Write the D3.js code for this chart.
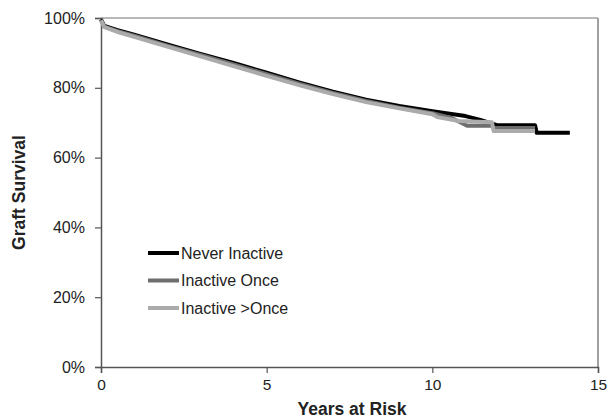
<!DOCTYPE html>
<html>
<head>
<meta charset="utf-8">
<script src="https://cdn.jsdelivr.net/npm/d3@7"></script>
<style>
  body { margin: 0; background: #fff; }
  text { font-family: "Liberation Sans", Arial, sans-serif; fill: #222; }
</style>
</head>
<body>
<script>
// survival curves: [years, percent]
var neverInactive = [[0,99.6],[0.1,97.7],[0.5,96.5],[1,95.2],[2,92.4],[3,89.7],[4,87.1],[5,84.3],[6,81.5],[7,78.9],[8,76.6],[9,74.8],[10,73.3],[11,71.9],[11.45,70.8],[11.95,69.3],[13.1,69.3],[13.15,67.1],[14.15,67.1]];
var inactiveOnce = [[0,99.4],[0.1,97.5],[0.5,96.2],[1,94.9],[2,92.1],[3,89.4],[4,86.7],[5,83.9],[6,81.1],[7,78.5],[8,76.2],[9,74.3],[10,72.7],[10.6,71.3],[11.05,69.1],[11.8,69.1],[11.85,68.5],[13.1,68.5]];
var inactiveMore = [[0,99.3],[0.1,97.4],[0.5,96],[1,94.6],[2,91.8],[3,89.0],[4,86.2],[5,83.4],[6,80.7],[7,78.2],[8,75.9],[9,74.1],[10,72.4],[10.15,71.6],[10.8,70.5],[11.8,70.1],[11.85,67.6],[13.1,67.6]];

var seriesNames = ["Never Inactive", "Inactive Once", "Inactive >Once"];
var seriesData = [neverInactive, inactiveOnce, inactiveMore];
var seriesColors = ["#000000", "#6e6e6e", "#ababab"];

var xTicks = [0, 5, 10, 15];
var yTicks = [0, 20, 40, 60, 80, 100];

var width = 611, height = 418;
var margin = {top: 18, right: 13, bottom: 51, left: 101};

var svg = d3.select("body").append("svg")
    .attr("width", width)
    .attr("height", height);

var x = d3.scaleLinear().domain([0, 15]).range([margin.left, width - margin.right]);
var y = d3.scaleLinear().domain([0, 100]).range([height - margin.bottom, margin.top]);

// top and right frame
svg.append("line")
    .attr("x1", x(0)).attr("x2", x(15))
    .attr("y1", y(100)).attr("y2", y(100))
    .attr("stroke", "#a0a0a0").attr("stroke-width", 1.5);
svg.append("line")
    .attr("x1", x(15)).attr("x2", x(15))
    .attr("y1", y(100)).attr("y2", y(0))
    .attr("stroke", "#a0a0a0").attr("stroke-width", 2);

// y axis
var yAxis = svg.append("g")
    .attr("transform", "translate(" + x(0) + ",0)")
    .call(d3.axisLeft(y).tickValues(yTicks).tickSize(6).tickPadding(10)
        .tickFormat(function (d) { return d + "%"; }));
yAxis.select(".domain").attr("stroke", "#555").attr("stroke-width", 1.5);
yAxis.selectAll(".tick line").attr("stroke", "#555").attr("stroke-width", 1.2);
yAxis.selectAll("text").style("font-size", "16px").attr("fill", "#222");

// x axis
var xAxis = svg.append("g")
    .attr("transform", "translate(0," + y(0) + ")")
    .call(d3.axisBottom(x).tickValues(xTicks).tickSize(6).tickPadding(6));
xAxis.select(".domain").attr("stroke", "#555").attr("stroke-width", 1.5);
xAxis.selectAll(".tick line").attr("stroke", "#555").attr("stroke-width", 1.2);
xAxis.selectAll("text").style("font-size", "15.5px").attr("fill", "#222");

// axis titles
svg.append("text")
    .attr("x", 352)
    .attr("y", 415)
    .attr("text-anchor", "middle")
    .style("font-size", "17.5px")
    .style("font-weight", "bold")
    .text("Years at Risk");

svg.append("text")
    .attr("transform", "translate(25," + ((y(0) + y(100)) / 2) + ") rotate(-90)")
    .attr("text-anchor", "middle")
    .style("font-size", "17.5px")
    .style("font-weight", "bold")
    .text("Graft Survival");

// curves
var line = d3.line()
    .x(function (d) { return x(d[0]); })
    .y(function (d) { return y(d[1]); });

seriesData.forEach(function (s, i) {
    svg.append("path")
        .datum(s)
        .attr("fill", "none")
        .attr("stroke", seriesColors[i])
        .attr("stroke-width", 4)
        .attr("stroke-linejoin", "round")
        .attr("d", line);
});

// legend
var legend = svg.append("g").attr("transform", "translate(148,253)");
seriesNames.forEach(function (name, i) {
    var g = legend.append("g").attr("transform", "translate(0," + (i * 27.5) + ")");
    g.append("line")
        .attr("x1", 0).attr("x2", 31)
        .attr("y1", 0).attr("y2", 0)
        .attr("stroke", seriesColors[i])
        .attr("stroke-width", 4);
    g.append("text")
        .attr("x", 33)
        .attr("y", 5.5)
        .style("font-size", "16px")
        .text(name);
});
</script>
</body>
</html>
